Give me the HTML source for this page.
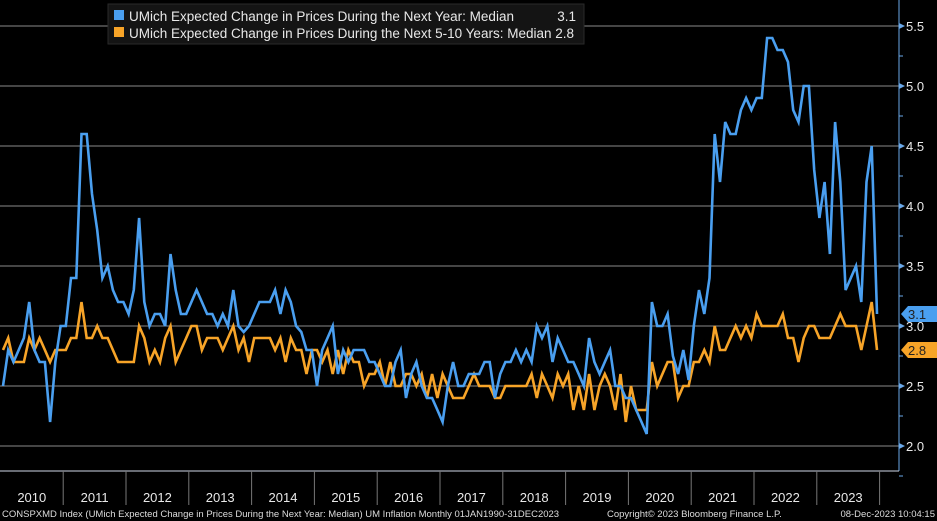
<!DOCTYPE html>
<html><head><meta charset="utf-8"><style>
html,body{margin:0;padding:0;background:#000;}
svg{display:block;font-family:"Liberation Sans",sans-serif;}
</style></head><body>
<svg id="chart" width="937" height="521" viewBox="0 0 937 521" xmlns="http://www.w3.org/2000/svg">
<rect x="0" y="0" width="937" height="521" fill="#000"/>
<g id="grid"></g>
<g id="series"></g>
<g id="yaxis"></g>
<g id="xaxis"></g>
<g>
<rect x="108" y="4" width="476" height="40" fill="#141414" stroke="#2a2a2a"/>
<rect x="114" y="10" width="10" height="10" fill="#4a9ff0"/>
<text x="129" y="21" fill="#e8e8e8" font-size="13.5">UMich Expected Change in Prices During the Next Year: Median</text>
<text x="576" y="21" fill="#e8e8e8" font-size="13.5" text-anchor="end">3.1</text>
<rect x="114" y="27" width="10" height="10" fill="#f7a428"/>
<text x="129" y="38" fill="#e8e8e8" font-size="13.5">UMich Expected Change in Prices During the Next 5-10 Years: Median 2.8</text>
</g>
<text x="2" y="517" fill="#ddd" font-size="9.5">CONSPXMD Index (UMich Expected Change in Prices During the Next Year: Median) UM Inflation  Monthly 01JAN1990-31DEC2023</text>
<text x="607" y="517" fill="#ddd" font-size="9.5">Copyright© 2023 Bloomberg Finance L.P.</text>
<text x="935" y="517" fill="#ddd" font-size="9.5" text-anchor="end">08-Dec-2023 10:04:15</text>
</svg>
<script>
const years = [2010,2011,2012,2013,2014,2015,2016,2017,2018,2019,2020,2021,2022,2023];
const yTicks = [2.0,2.5,3.0,3.5,4.0,4.5,5.0,5.5];
const oneYear = [
2.5,2.8,2.7,2.8,2.9,3.2,2.8,2.7,2.7,2.2,2.7,3.0,
3.0,3.4,3.4,4.6,4.6,4.1,3.8,3.4,3.5,3.3,3.2,3.2,
3.1,3.3,3.9,3.2,3.0,3.1,3.1,3.0,3.6,3.3,3.1,3.1,
3.2,3.3,3.2,3.1,3.1,3.0,3.1,3.0,3.3,3.0,2.95,3.0,
3.1,3.2,3.2,3.2,3.3,3.1,3.3,3.2,3.0,2.95,2.8,2.8,
2.5,2.8,2.9,3.0,2.6,2.8,2.7,2.8,2.8,2.8,2.7,2.7,
2.6,2.5,2.5,2.7,2.8,2.4,2.6,2.7,2.5,2.4,2.4,2.3,
2.2,2.5,2.7,2.5,2.5,2.6,2.6,2.6,2.7,2.7,2.4,2.6,
2.7,2.7,2.8,2.7,2.8,2.7,3.0,2.9,3.0,2.7,2.9,2.8,
2.7,2.7,2.6,2.5,2.9,2.7,2.6,2.7,2.8,2.5,2.5,2.4,
2.4,2.3,2.2,2.1,3.2,3.0,3.0,3.1,2.75,2.6,2.8,2.55,
3.0,3.3,3.1,3.4,4.6,4.2,4.7,4.6,4.6,4.8,4.9,4.8,
4.9,4.9,5.4,5.4,5.3,5.3,5.2,4.8,4.7,5.0,5.0,4.3,
3.9,4.2,3.6,4.7,4.2,3.3,3.4,3.5,3.2,4.2,4.5,3.1];
const fiveYear = [
2.8,2.9,2.7,2.7,2.7,2.9,2.8,2.9,2.8,2.7,2.8,2.8,
2.8,2.9,2.9,3.2,2.9,2.9,3.0,2.9,2.9,2.8,2.7,2.7,
2.7,2.7,3.0,2.9,2.7,2.8,2.7,2.9,3.0,2.7,2.8,2.9,
3.0,3.0,2.8,2.9,2.9,2.9,2.8,2.9,3.0,2.8,2.9,2.7,
2.9,2.9,2.9,2.9,2.8,2.9,2.7,2.9,2.8,2.8,2.6,2.8,
2.8,2.7,2.8,2.6,2.8,2.6,2.8,2.7,2.7,2.5,2.6,2.6,
2.7,2.5,2.7,2.5,2.5,2.6,2.6,2.5,2.6,2.4,2.6,2.4,
2.6,2.5,2.4,2.4,2.4,2.5,2.6,2.5,2.5,2.5,2.4,2.4,
2.5,2.5,2.5,2.5,2.5,2.6,2.4,2.6,2.5,2.4,2.6,2.5,
2.6,2.3,2.5,2.3,2.6,2.3,2.5,2.6,2.5,2.3,2.6,2.2,
2.5,2.3,2.3,2.3,2.7,2.5,2.6,2.7,2.7,2.4,2.5,2.5,
2.7,2.7,2.8,2.7,3.0,2.8,2.8,2.9,3.0,2.9,3.0,2.9,
3.1,3.0,3.0,3.0,3.0,3.1,2.9,2.9,2.7,2.9,3.0,3.0,
2.9,2.9,2.9,3.0,3.1,3.0,3.0,3.0,2.8,3.0,3.2,2.8];

const NS = "http://www.w3.org/2000/svg";
const X0 = 0.4, YEARW = 62.8, AXX = 899, PLOTB = 471;
function xScale(i){ return X0 + i*YEARW/12 + 2.6; }
function yScale(v){ return 26 + (5.5 - v)*120; }
function mk(tag, attrs, parent){ const e=document.createElementNS(NS,tag); for(const k in attrs) e.setAttribute(k,attrs[k]); parent.appendChild(e); return e; }

const grid=document.getElementById('grid');
const yaxis=document.getElementById('yaxis');
const xaxis=document.getElementById('xaxis');
const series=document.getElementById('series');

yTicks.forEach(v=>{
  const y=yScale(v);
  const g=mk('line',{x1:0,x2:AXX,y1:y,y2:y,stroke:'#8a8a8a','stroke-width':1},grid);
  
  
  const t=mk('polygon',{points:`${AXX},${y-3} ${AXX+6},${y} ${AXX},${y+3}`,fill:'#6aa8e8'},yaxis);
  
  
  const lb=mk('text',{x:AXX+7,y:y+5,fill:'#e8e8e8','font-size':13},yaxis);
  
  
  lb.textContent=v.toFixed(1);
});
for(let v=1.75; v<5.6; v+=0.5){
  const y=yScale(v);
  const m=mk('line',{x1:AXX,x2:AXX+4,y1:y,y2:y,stroke:'#6aa8e8'},yaxis);
  
  
}
const ax=mk('line',{x1:AXX,x2:AXX,y1:0,y2:PLOTB,stroke:'#6aa8e8','stroke-width':1},yaxis);


const bx=mk('line',{x1:0,x2:AXX,y1:PLOTB,y2:PLOTB,stroke:'#cfd8e8','stroke-width':1},xaxis);



years.forEach((yr,k)=>{
  const x0=X0+k*YEARW;
  const s=mk('line',{x1:x0+YEARW,x2:x0+YEARW,y1:PLOTB,y2:505,stroke:'#777'},xaxis);
  
  
  const t=mk('text',{x:x0+YEARW/2,y:502,fill:'#e8e8e8','font-size':13,'text-anchor':'middle'},xaxis);
  
  
  t.textContent=yr;
});

function drawLine(data,color,name){
  const pts=data.map((v,i)=>xScale(i).toFixed(1)+','+yScale(v).toFixed(1)).join(' ');
  const p=mk('polyline',{points:pts,fill:'none',stroke:color,'stroke-width':2.6,'stroke-linejoin':'miter'},series);
  
  
}
drawLine(fiveYear,'#f7a428','series-5-10-year-line');
drawLine(oneYear,'#4a9ff0','series-1-year-line');

function lastTag(v,color,name){
  const y=yScale(v);
  const g=mk('polygon',{points:`${AXX+2},${y} ${AXX+9},${y-8} ${937},${y-8} ${937},${y+8} ${AXX+9},${y+8}`,fill:color},yaxis);
  
  
  const t=mk('text',{x:AXX+9,y:y+5,fill:'#222','font-size':13},yaxis);
  
  
  t.textContent=v.toFixed(1);
}
lastTag(oneYear[oneYear.length-1],'#4a9ff0','last-value-tag-1y');
lastTag(fiveYear[fiveYear.length-1],'#f7a428','last-value-tag-5y');
</script>
</body></html>
